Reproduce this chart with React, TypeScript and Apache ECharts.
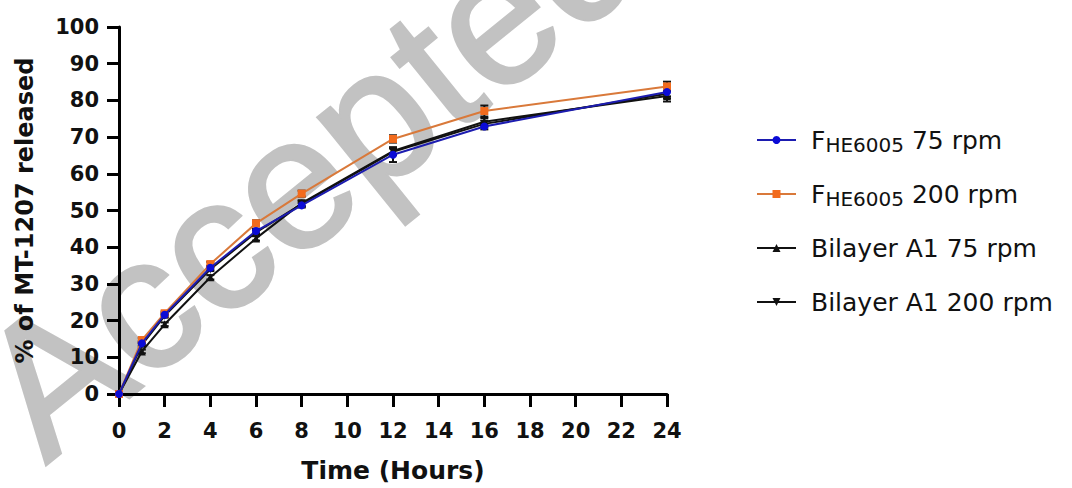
import React, { useEffect, useRef } from "react";
import * as echarts from "echarts";

const timeHours = [0, 1, 2, 4, 6, 8, 12, 16, 24];
const xTicks = [0, 2, 4, 6, 8, 10, 12, 14, 16, 18, 20, 22, 24];
const yTicks = [0, 10, 20, 30, 40, 50, 60, 70, 80, 90, 100];

const seriesNames = ["FHE6005 75 rpm", "FHE6005 200 rpm", "Bilayer A1 75 rpm", "Bilayer A1 200 rpm"];

const fhe75 = [0, 13.8, 21.6, 34.4, 44.4, 51.4, 65.2, 72.9, 82.3];
const fhe200 = [0, 14.7, 22.0, 35.4, 46.5, 54.6, 69.5, 77.1, 83.8];
const bil75 = [0, 11.6, 19.0, 31.8, 42.4, 52.0, 66.2, 74.2, 81.2];
const bil200 = [0, 13.4, 21.3, 34.0, 44.0, 51.8, 66.0, 73.6, 81.8];

const fhe75Err = [0, 0.5, 0.5, 0.5, 0.6, 0.6, 2.0, 0.8, 1.2];
const fhe200Err = [0, 0.6, 0.5, 0.6, 0.8, 0.8, 1.0, 1.5, 1.3];
const bil75Err = [0, 0.5, 0.5, 0.6, 0.6, 0.8, 1.0, 1.0, 1.5];
const bil200Err = [0, 0.5, 0.5, 0.5, 0.6, 0.7, 0.9, 0.9, 1.2];

const watermarkText = "Accepted";

function errData(vals: number[], errs: number[]) {
  return timeHours.map((t, i) => [t, vals[i] - errs[i], vals[i] + errs[i]]);
}

function errSeries(vals: number[], errs: number[], z: number) {
  return {
    type: "custom",
    silent: true,
    z,
    data: errData(vals, errs),
    renderItem: (params: any, api: any) => {
      const x = api.value(0);
      const lo = api.coord([x, api.value(1)]);
      const hi = api.coord([x, api.value(2)]);
      const hw = 4;
      const st = { stroke: "#111", lineWidth: 2 };
      return {
        type: "group",
        children: [
          { type: "line", shape: { x1: lo[0], y1: lo[1], x2: hi[0], y2: hi[1] }, style: st },
          { type: "line", shape: { x1: lo[0] - hw, y1: lo[1], x2: lo[0] + hw, y2: lo[1] }, style: st },
          { type: "line", shape: { x1: hi[0] - hw, y1: hi[1], x2: hi[0] + hw, y2: hi[1] }, style: st },
        ],
      };
    },
  };
}

function lineSeries(name: string, vals: number[], lineColor: string, markColor: string, symbol: string, size: number, z: number, rotate = 0) {
  return {
    name,
    type: "line",
    z,
    data: timeHours.map((t, i) => [t, vals[i]]),
    symbol,
    symbolSize: size,
    symbolRotate: rotate,
    showSymbol: true,
    lineStyle: { color: lineColor, width: 2 },
    itemStyle: { color: markColor, borderWidth: 0 },
  };
}

export default function App() {
  const ref = useRef<HTMLDivElement>(null);
  useEffect(() => {
    if (!ref.current) return;
    const chart = echarts.init(ref.current, null, { renderer: "svg" });
    const bold = { fontFamily: "DejaVu Sans", fontWeight: "bold" as const, color: "#111" };
    chart.setOption({
      animation: false,
      backgroundColor: "#ffffff",
      grid: { left: 119, right: 405, top: 27, bottom: 94, containLabel: false },
      graphic: [
        {
          type: "text",
          x: 310,
          y: 168,
          rotation: 0.68,
          z: -10,
          silent: true,
          style: {
            text: watermarkText,
            fontFamily: "Liberation Sans",
            fontSize: 188,
            fill: "#c2c2c2",
            stroke: "#c2c2c2",
            lineWidth: 3,
            align: "center",
            verticalAlign: "middle",
          },
        },
      ],
      xAxis: {
        type: "value",
        min: xTicks[0],
        max: xTicks[xTicks.length - 1],
        interval: 2,
        name: "Time (Hours)",
        nameLocation: "middle",
        nameGap: 64,
        nameTextStyle: { ...bold, fontSize: 25 },
        axisLine: { lineStyle: { color: "#000", width: 3 } },
        axisTick: { length: 13, lineStyle: { color: "#000", width: 3 } },
        axisLabel: { ...bold, fontSize: 21, margin: 26 },
        splitLine: { show: false },
      },
      yAxis: {
        type: "value",
        min: yTicks[0],
        max: yTicks[yTicks.length - 1],
        interval: 10,
        name: "% of MT-1207 released",
        nameLocation: "middle",
        nameGap: 82,
        nameTextStyle: { ...bold, fontSize: 24 },
        axisLine: { show: true, lineStyle: { color: "#000", width: 3 } },
        axisTick: { show: true, length: 12, lineStyle: { color: "#000", width: 3 } },
        axisLabel: { ...bold, fontSize: 21, margin: 20 },
        splitLine: { show: false },
      },
      legend: {
        orient: "vertical",
        left: 751,
        top: 120,
        itemWidth: 39,
        itemHeight: 10,
        itemGap: 24,
        data: seriesNames,
        formatter: (name: string) =>
          name.startsWith("FHE6005") ? "{main|F}{sub|HE6005}{main|" + name.slice(7) + "}" : "{main|" + name + "}",
        textStyle: {
          fontFamily: "DejaVu Sans",
          fontSize: 25,
          color: "#111",
          lineHeight: 30,
          padding: [0, 0, 0, 10],
          rich: {
            main: { fontFamily: "DejaVu Sans", fontSize: 25, color: "#111", lineHeight: 30, verticalAlign: "middle" },
            sub: { fontFamily: "DejaVu Sans", fontSize: 20, color: "#111", lineHeight: 20, verticalAlign: "bottom", padding: [10, 0, 0, 0] },
          },
        },
      },
      series: [
        lineSeries(seriesNames[3], bil200, "#111", "#111", "triangle", 8, 3, 180),
        lineSeries(seriesNames[2], bil75, "#111", "#111", "triangle", 8, 4),
        lineSeries(seriesNames[1], fhe200, "#d9793a", "#f26b1d", "rect", 8, 5),
        lineSeries(seriesNames[0], fhe75, "#1c1cb0", "#0b0bd6", "circle", 8, 6),
        errSeries(bil200, bil200Err, 2),
        errSeries(bil75, bil75Err, 2),
        errSeries(fhe200, fhe200Err, 2),
        errSeries(fhe75, fhe75Err, 2),
      ],
    });
    return () => chart.dispose();
  }, []);
  return <div ref={ref} style={{ position: "absolute", left: 0, top: 0, width: 1072, height: 488 }} />;
}
